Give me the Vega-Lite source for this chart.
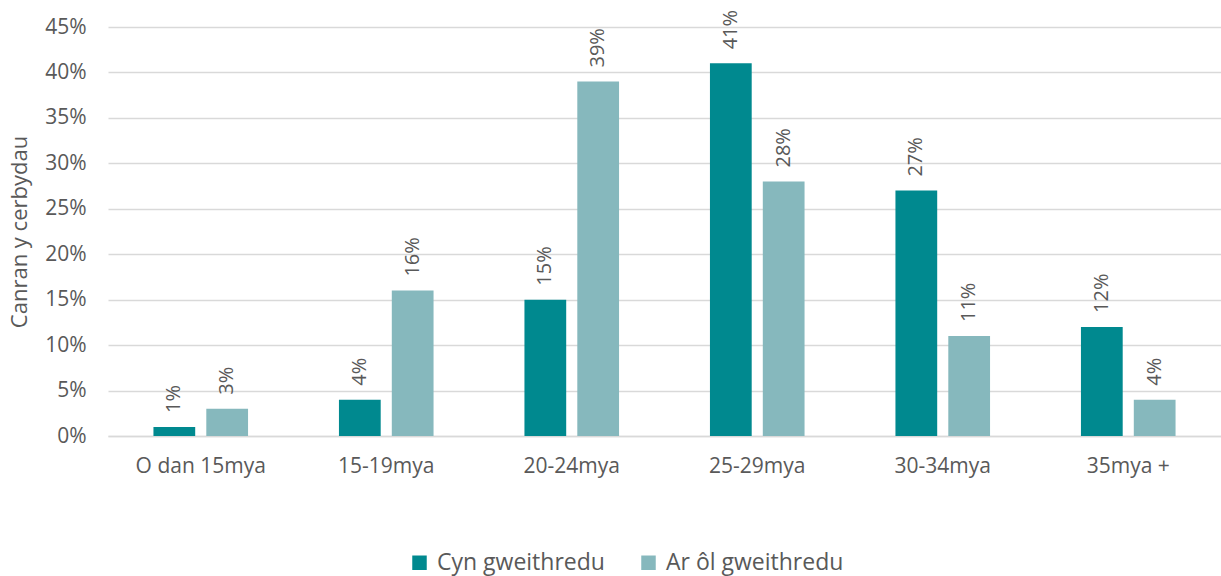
{
  "$schema": "https://vega.github.io/schema/vega-lite/v6.json",
  "width": 1113,
  "height": 409,
  "autosize": {"type": "none"},
  "padding": {"left": 108, "top": 27, "right": 0, "bottom": 140},
  "background": "white",
  "data": {
    "values": [
      {"oed": "O dan 15mya", "cyfnod": "Cyn gweithredu", "canran": 0.01},
      {"oed": "O dan 15mya", "cyfnod": "Ar ôl gweithredu", "canran": 0.03},
      {"oed": "15-19mya", "cyfnod": "Cyn gweithredu", "canran": 0.04},
      {"oed": "15-19mya", "cyfnod": "Ar ôl gweithredu", "canran": 0.16},
      {"oed": "20-24mya", "cyfnod": "Cyn gweithredu", "canran": 0.15},
      {"oed": "20-24mya", "cyfnod": "Ar ôl gweithredu", "canran": 0.39},
      {"oed": "25-29mya", "cyfnod": "Cyn gweithredu", "canran": 0.41},
      {"oed": "25-29mya", "cyfnod": "Ar ôl gweithredu", "canran": 0.28},
      {"oed": "30-34mya", "cyfnod": "Cyn gweithredu", "canran": 0.27},
      {"oed": "30-34mya", "cyfnod": "Ar ôl gweithredu", "canran": 0.11},
      {"oed": "35mya +", "cyfnod": "Cyn gweithredu", "canran": 0.12},
      {"oed": "35mya +", "cyfnod": "Ar ôl gweithredu", "canran": 0.04}
    ]
  },
  "config": {
    "font": "Open Sans",
    "view": {"stroke": null},
    "axis": {"labelColor": "#595959", "titleColor": "#595959", "labelFont": "Open Sans", "titleFont": "Open Sans"}
  },
  "encoding": {
    "x": {
      "field": "oed", "type": "nominal", "sort": null,
      "scale": {"paddingInner": 0.49, "paddingOuter": 0.245},
      "axis": {"title": null, "labelAngle": 0, "labelFontSize": 21, "labelPadding": 19, "ticks": false, "domainColor": "#d9d9d9", "domainWidth": 1.5}
    },
    "xOffset": {"field": "cyfnod", "type": "nominal", "sort": ["Cyn gweithredu", "Ar ôl gweithredu"], "scale": {"paddingInner": 0.21, "paddingOuter": 0}},
    "y": {
      "field": "canran", "type": "quantitative",
      "scale": {"domain": [0, 0.45]},
      "axis": {"title": "Canran y cerbydau", "titleFontSize": 22, "titleFontWeight": "normal", "titlePadding": 13, "labelFontSize": 21, "labelPadding": 22, "values": [0,0.05,0.1,0.15,0.2,0.25,0.3,0.35,0.4,0.45], "format": ".0%", "ticks": false, "domain": false, "gridColor": "#d9d9d9", "gridWidth": 1.5}
    }
  },
  "layer": [
    {
      "mark": {"type": "bar"},
      "encoding": {
        "color": {
          "field": "cyfnod", "type": "nominal",
          "scale": {"domain": ["Cyn gweithredu", "Ar ôl gweithredu"], "range": ["#00898f", "#86b8bd"]},
          "legend": {"title": null, "orient": "none", "legendX": 300, "legendY": 524, "direction": "horizontal", "columns": 2, "columnPadding": 32, "symbolType": "square", "symbolSize": 210, "symbolStrokeWidth": 0, "symbolOpacity": 1, "labelFontSize": 23, "labelLimit": 400, "labelColor": "#595959", "labelFont": "Open Sans", "labelOffset": 6}
        }
      }
    },
    {
      "mark": {"type": "text", "angle": 270, "align": "left", "baseline": "middle", "dx": 14, "fontSize": 20, "color": "#595959"},
      "encoding": {
        "text": {"field": "canran", "type": "quantitative", "format": ".0%"},
        "detail": {"field": "cyfnod"}
      }
    }
  ]
}
